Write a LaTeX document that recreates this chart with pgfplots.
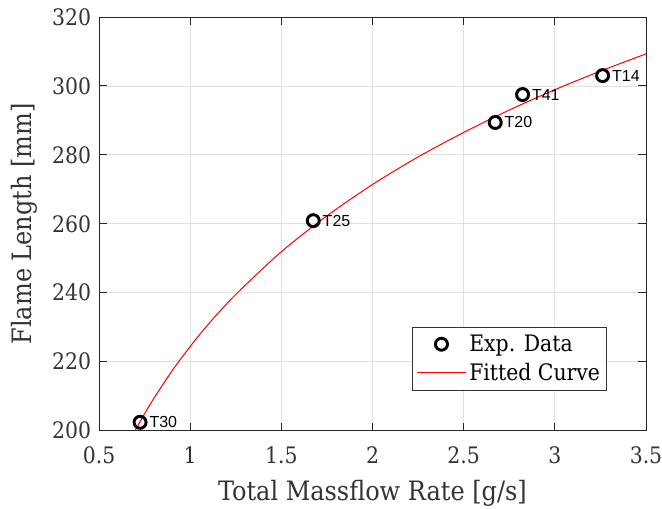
\documentclass[border=0pt]{standalone}
\usepackage{fontspec}
\setmainfont{DejaVu Serif Condensed}
\newfontfamily\labelfont{Liberation Sans}
\usepackage{pgfplots}
\pgfplotsset{compat=1.18}

\pgfplotsset{
    marklegend/.style={legend image code/.code={\draw[##1, mark repeat=2, mark phase=2]
        plot coordinates {(0cm,0cm) (0.65cm,0cm) (1.3cm,0cm)};}},
    linelegend/.style={legend image code/.code={\draw[##1] (0cm,0cm) -- (1.3cm,0cm);}},
}

\pgfplotstableread{
x      y      label
0.725  202.4  T30
1.675  260.9  T25
2.673  289.4  T20
2.823  297.5  T41
3.262  303.0  T14
}\expdata

\pgfplotstableread{
x      y
0.698  200.0
0.75   204.9
0.8    209.3
0.9    217.3
1.0    224.4
1.1    230.9
1.25   239.5
1.5    251.9
1.75   262.3
2.0    271.4
2.25   279.4
2.5    286.5
2.75   293.0
3.0    298.9
3.25   304.3
3.5    309.3
}\fitcurve

\begin{document}
\begin{tikzpicture}
\begin{axis}[
    scale only axis,
    width=410pt,
    height=310pt,
    xmin=0.5, xmax=3.5,
    ymin=200, ymax=320,
    xtick={0.5,1,...,3.5},
    ytick={200,220,...,320},
    /pgf/number format/assume math mode=true,
    tick label style={font=\fontsize{17}{20}\selectfont, text=black!80},
    xticklabel style={yshift=-8.5pt},
    yticklabel style={xshift=-2.5pt},
    label style={font=\fontsize{20}{24}\selectfont, text=black!80},
    xlabel={Total Massflow Rate [g/s]},
    ylabel={Flame Length [mm]},
    xlabel style={at={(axis description cs:0.5,-0.152)}, anchor=center},
    ylabel style={at={(axis description cs:-0.137,0.5)}, anchor=center},
    grid=major,
    grid style={black!12, line width=0.6pt},
    axis line style={black!85, line width=0.7pt},
    tick style={black!85, line width=0.7pt},
    tick align=inside,
    major tick length=6pt,
    legend cell align=left,
    legend style={at={(0.929,0.097)}, anchor=south east,
        font=\fontsize{17}{20}\selectfont, draw=black!80, line width=0.6pt,
        inner xsep=3pt, inner ysep=4pt, row sep=3pt},
]
\addplot[only marks, mark=o, mark size=4.5pt, line width=2.2pt, black,
    nodes near coords, point meta=explicit symbolic,
    nodes near coords style={anchor=west, inner sep=0pt, xshift=6pt,
        font=\labelfont\fontsize{12}{14}\selectfont, text=black},
    marklegend]
    table[x=x, y=y, meta=label] {\expdata};
\addlegendentry{Exp. Data}
\addplot[red, line width=0.75pt, smooth, no marks, linelegend]
    table[x=x, y=y] {\fitcurve};
\addlegendentry{Fitted Curve}
\end{axis}
\pgfresetboundingbox
\path[use as bounding box]
    ([shift={(-74.25pt,-58.5pt)}]current axis.south west) rectangle
    ([shift={(12pt,12.75pt)}]current axis.north east);
\end{tikzpicture}
\end{document}
